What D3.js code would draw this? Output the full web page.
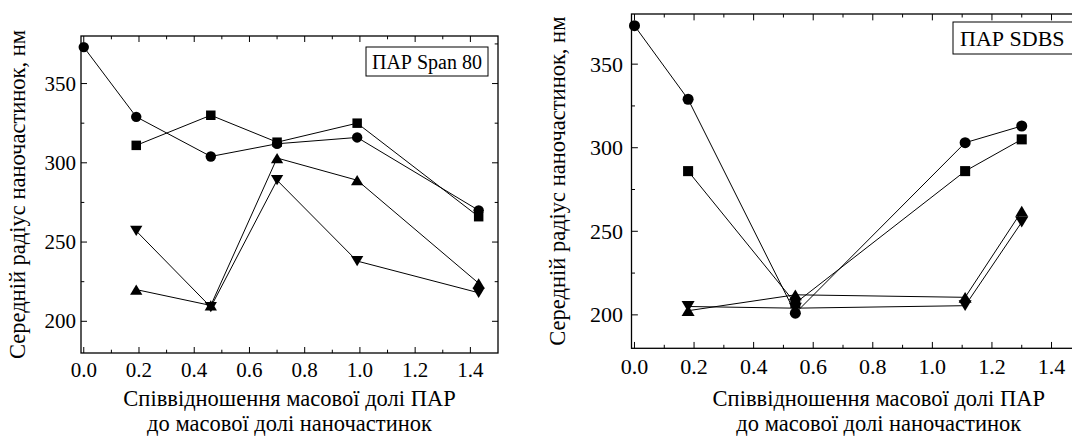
<!DOCTYPE html>
<html>
<head>
<meta charset="utf-8">
<script src="https://cdn.jsdelivr.net/npm/d3@7"></script>
<style>
  body { margin: 0; background: #fff; }
  svg { display: block; }
</style>
</head>
<body>
<div id="chart"></div>
<script>
// ---- data ----
const xTickValues = [0.0, 0.2, 0.4, 0.6, 0.8, 1.0, 1.2, 1.4];
const yTickValues = [200, 250, 300, 350];

// left panel: Span 80
const span80X = [0.0, 0.19, 0.46, 0.70, 0.99, 1.43];
const span80Circle = [373, 329, 304, 312, 316, 270];
const span80Square = [null, 311, 330, 313, 325, 266];
const span80TriUp = [null, 220, 210, 303, 289, 224];
const span80TriDown = [null, 257, 209, 289, 238, 218];

// right panel: SDBS
const sdbsX = [0.0, 0.18, 0.54, 1.11, 1.30];
const sdbsCircle = [373, 329, 201, 303, 313];
const sdbsSquare = [null, 286, 207, 286, 305];
const sdbsTriUp = [null, 202.5, 212, 210.5, 262];
const sdbsTriDown = [null, 205, 204, 205.5, 255.5];

const xTitleLines = ['Співвідношення масової долі ПАР', 'до масової долі наночастинок'];
const yTitle = 'Середній радіус наночастинок, нм';

const FONT = "font-family: 'Liberation Serif', 'Times New Roman', Times, serif";

// custom triangles centred at mid-height so overlaps form hourglass / diamond
const triUp = {
  draw(ctx, size) {
    const s = Math.sqrt(size);
    ctx.moveTo(0, -s * 0.5);
    ctx.lineTo(s * 0.6, s * 0.5);
    ctx.lineTo(-s * 0.6, s * 0.5);
    ctx.closePath();
  }
};
const triDown = {
  draw(ctx, size) {
    const s = Math.sqrt(size);
    ctx.moveTo(0, s * 0.5);
    ctx.lineTo(s * 0.6, -s * 0.5);
    ctx.lineTo(-s * 0.6, -s * 0.5);
    ctx.closePath();
  }
};

const width = 1072, height = 437;
const svg = d3.select('#chart').append('svg')
  .attr('width', width)
  .attr('height', height);

function drawPanel(opts) {
  const { left, right, top, bottom, xDomain, k, xs, series, legend } = opts;
  const x = d3.scaleLinear().domain(xDomain).range([left, right]);
  const y = d3.scaleLinear().domain([180, 380]).range([bottom, top]);
  const g = svg.append('g');

  const minorX = d3.range(0, 1.45, 0.1).filter(v => Math.round(v * 10) % 2 === 1);
  const minorY = [225, 275, 325, 375];

  // ticks (inward, on all four sides)
  const majLen = 6 * k, minLen = 3.3 * k;
  xTickValues.forEach(v => {
    g.append('line').attr('x1', x(v)).attr('x2', x(v)).attr('y1', bottom).attr('y2', bottom - majLen).attr('stroke', '#000');
    g.append('line').attr('x1', x(v)).attr('x2', x(v)).attr('y1', top).attr('y2', top + majLen).attr('stroke', '#000');
  });
  minorX.forEach(v => {
    g.append('line').attr('x1', x(v)).attr('x2', x(v)).attr('y1', bottom).attr('y2', bottom - minLen).attr('stroke', '#000');
    g.append('line').attr('x1', x(v)).attr('x2', x(v)).attr('y1', top).attr('y2', top + minLen).attr('stroke', '#000');
  });
  yTickValues.forEach(v => {
    g.append('line').attr('x1', left).attr('x2', left + majLen).attr('y1', y(v)).attr('y2', y(v)).attr('stroke', '#000');
    g.append('line').attr('x1', right).attr('x2', right - majLen).attr('y1', y(v)).attr('y2', y(v)).attr('stroke', '#000');
  });
  minorY.forEach(v => {
    g.append('line').attr('x1', left).attr('x2', left + minLen).attr('y1', y(v)).attr('y2', y(v)).attr('stroke', '#000');
    g.append('line').attr('x1', right).attr('x2', right - minLen).attr('y1', y(v)).attr('y2', y(v)).attr('stroke', '#000');
  });

  // frame
  g.append('rect')
    .attr('x', left).attr('y', top)
    .attr('width', right - left).attr('height', bottom - top)
    .attr('fill', 'none').attr('stroke', '#000').attr('stroke-width', 1.3);

  // tick labels
  g.selectAll('.xl').data(xTickValues).enter().append('text')
    .attr('x', d => x(d))
    .attr('y', opts.xLabelBase)
    .attr('text-anchor', 'middle')
    .attr('style', FONT)
    .attr('font-size', opts.tickFont)
    .text(d => d.toFixed(1));
  g.selectAll('.yl').data(yTickValues).enter().append('text')
    .attr('x', opts.yLabelRight)
    .attr('y', d => y(d))
    .attr('dy', '0.34em')
    .attr('text-anchor', 'end')
    .attr('style', FONT)
    .attr('font-size', opts.tickFont)
    .text(d => d);

  // axis titles
  xTitleLines.forEach((t, i) => {
    g.append('text')
      .attr('x', (left + right) / 2)
      .attr('y', opts.xTitleBase + i * opts.xTitleGap)
      .attr('text-anchor', 'middle')
      .attr('style', FONT)
      .attr('font-size', opts.titleFont)
      .text(t);
  });
  g.append('text')
    .attr('transform', `translate(${opts.yTitleX},${(top + bottom) / 2}) rotate(-90)`)
    .attr('text-anchor', 'middle')
    .attr('dy', '0.35em')
    .attr('style', FONT)
    .attr('font-size', opts.titleFont)
    .text(yTitle);

  // legend box
  g.append('rect')
    .attr('x', legend.x).attr('y', legend.y)
    .attr('width', legend.w).attr('height', legend.h)
    .attr('fill', '#fff').attr('stroke', '#000').attr('stroke-width', 1);
  g.append('text')
    .attr('x', legend.tx)
    .attr('y', legend.y + legend.h / 2)
    .attr('dy', '0.35em')
    .attr('text-anchor', legend.anchor)
    .attr('style', FONT)
    .attr('font-size', legend.font)
    .text(legend.text);

  // series lines then markers
  series.forEach(s => {
    const pts = xs.map((v, i) => [v, s.values[i]]).filter(p => p[1] != null);
    g.append('path')
      .datum(pts)
      .attr('fill', 'none')
      .attr('stroke', '#000')
      .attr('stroke-width', 1)
      .attr('d', d3.line().x(p => x(p[0])).y(p => y(p[1])));
  });
  series.forEach(s => {
    const pts = xs.map((v, i) => [v, s.values[i]]).filter(p => p[1] != null);
    g.selectAll(null).data(pts).enter().append('path')
      .attr('transform', p => `translate(${x(p[0])},${y(p[1])})`)
      .attr('fill', '#000')
      .attr('d', d3.symbol(s.type, s.size * k * k));
  });
}

drawPanel({
  left: 81, right: 498, top: 36, bottom: 353,
  xDomain: [-0.01, 1.5], k: 1,
  xs: span80X,
  series: [
    { values: span80Circle, type: d3.symbolCircle, size: 85 },
    { values: span80Square, type: d3.symbolSquare, size: 90 },
    { values: span80TriUp, type: triUp, size: 105 },
    { values: span80TriDown, type: triDown, size: 105 }
  ],
  tickFont: 21, titleFont: 22.5,
  xLabelBase: 377, yLabelRight: 76,
  xTitleBase: 406, xTitleGap: 25, yTitleX: 17,
  legend: { x: 366, y: 47, w: 122, h: 29, tx: 427, anchor: 'middle', font: 20, text: 'ПАР Span 80' }
});

drawPanel({
  left: 631.5, right: 1126, top: 14, bottom: 348.3,
  xDomain: [-0.01, 1.65], k: 1.06,
  xs: sdbsX,
  series: [
    { values: sdbsCircle, type: d3.symbolCircle, size: 85 },
    { values: sdbsSquare, type: d3.symbolSquare, size: 90 },
    { values: sdbsTriUp, type: triUp, size: 105 },
    { values: sdbsTriDown, type: triDown, size: 105 }
  ],
  tickFont: 22, titleFont: 22.5,
  xLabelBase: 374, yLabelRight: 623,
  xTitleBase: 406, xTitleGap: 25, yTitleX: 557,
  legend: { x: 953, y: 22, w: 140, h: 32, tx: 960, anchor: 'start', font: 22, text: 'ПАР SDBS' }
});
</script>
</body>
</html>
